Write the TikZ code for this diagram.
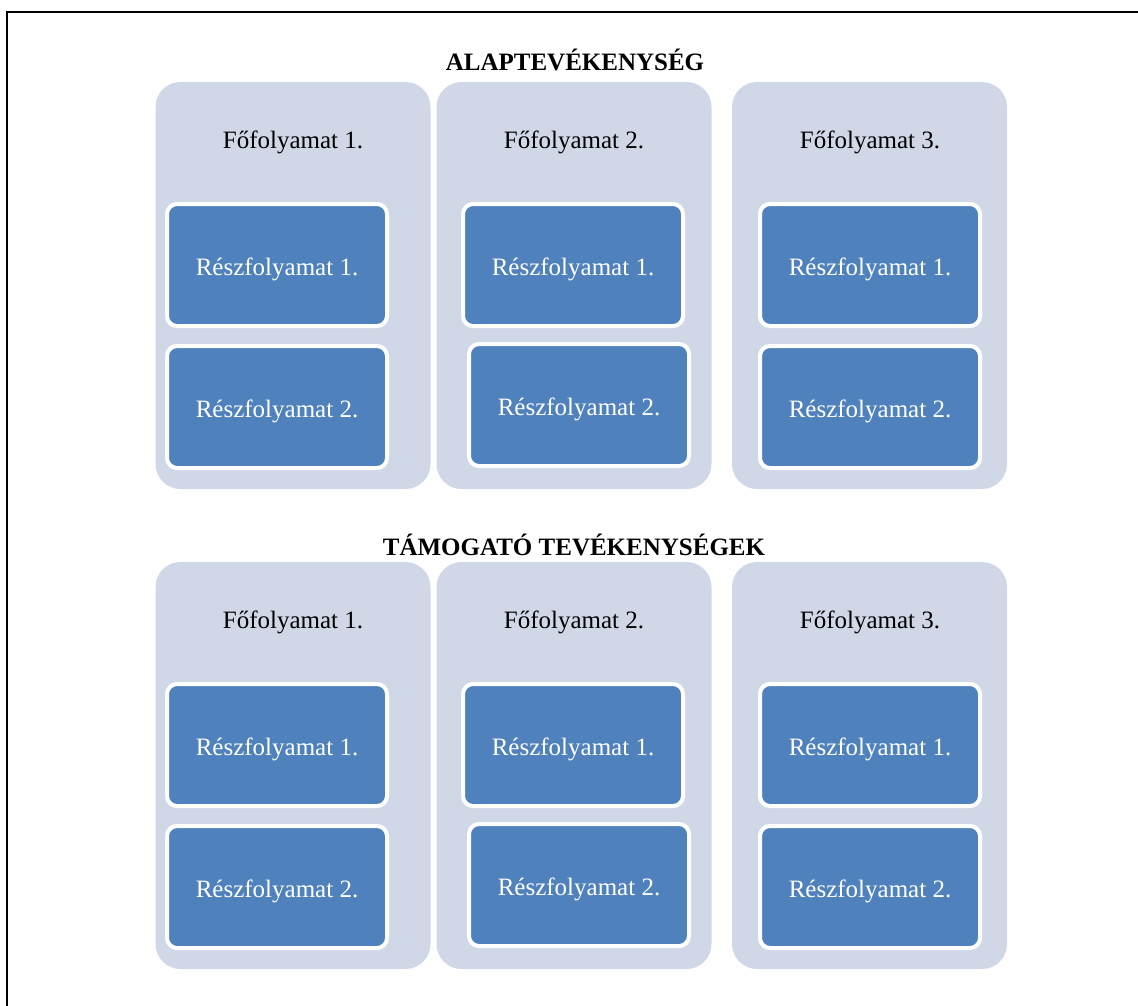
\documentclass[tikz,border=0pt]{standalone}
\usepackage{fontspec}
\setmainfont{Liberation Serif}
\usepackage{tikz}
\usetikzlibrary{positioning}
\definecolor{panelgray}{HTML}{D0D8E8}
\definecolor{boxblue}{HTML}{4F81BD}

\begin{document}
\begin{tikzpicture}[x=1pt,y=-1pt,
	panel/.style={fill=panelgray,rounded corners=25pt,minimum width=275pt,minimum height=407pt,inner sep=0pt},
	subbox/.style={fill=boxblue,draw=white,line width=4pt,rounded corners=10pt,minimum width=220pt,minimum height=122pt,inner sep=0pt,text height=21pt,text depth=0pt,text=white,font=\fontsize{25}{30}\selectfont},
	mainlbl/.style={font=\fontsize{25}{30}\selectfont,inner sep=0pt},
	title/.style={font=\fontsize{25}{30}\selectfont\bfseries,inner sep=0pt}]
		\useasboundingbox (0,0) rectangle (1138,1005);
		\draw[line width=2pt] (7,12) rectangle (1160,1030);
		
		% felso sor
		\node[title] (alap) at (575,60) {ALAPTEVÉKENYSÉG};
		\node[panel] (p11) at (293,285.5) {};
		\node[panel] (p12) at (574,285.5) {};
		\node[panel] (p13) at (869.5,285.5) {};
		\node[mainlbl] (f11) at (293,142) {Főfolyamat 1.};
		\node[mainlbl] (f12) at (574,142) {Főfolyamat 2.};
		\node[mainlbl] (f13) at (870,142) {Főfolyamat 3.};
		\node[subbox] (r11a) at (277,265) {Részfolyamat 1.};
		\node[subbox] (r11b) at (277,407) {Részfolyamat 2.};
		\node[subbox] (r12a) at (573,265) {Részfolyamat 1.};
		\node[subbox] (r12b) at (579,405) {Részfolyamat 2.};
		\node[subbox] (r13a) at (870,265) {Részfolyamat 1.};
		\node[subbox] (r13b) at (870,407) {Részfolyamat 2.};
		
		% also sor
		\node[title] (tamogato) at (574,545) {TÁMOGATÓ TEVÉKENYSÉGEK};
		\node[panel] (p21) at (293,765.5) {};
		\node[panel] (p22) at (574,765.5) {};
		\node[panel] (p23) at (869.5,765.5) {};
		\node[mainlbl] (f21) at (293,622) {Főfolyamat 1.};
		\node[mainlbl] (f22) at (574,622) {Főfolyamat 2.};
		\node[mainlbl] (f23) at (870,622) {Főfolyamat 3.};
		\node[subbox] (r21a) at (277,745) {Részfolyamat 1.};
		\node[subbox] (r21b) at (277,887) {Részfolyamat 2.};
		\node[subbox] (r22a) at (573,745) {Részfolyamat 1.};
		\node[subbox] (r22b) at (579,885) {Részfolyamat 2.};
		\node[subbox] (r23a) at (870,745) {Részfolyamat 1.};
		\node[subbox] (r23b) at (870,887) {Részfolyamat 2.};
	\end{tikzpicture}
\end{document}
